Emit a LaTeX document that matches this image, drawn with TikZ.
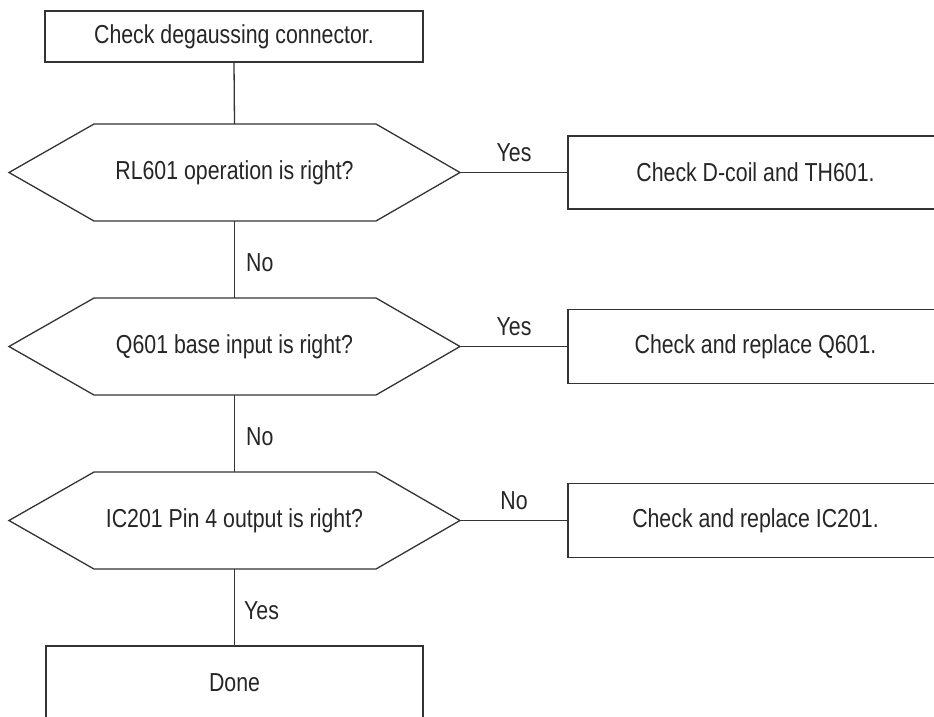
\documentclass[tikz,border=0pt]{standalone}
\usepackage{fontspec}
\setmainfont{Liberation Sans}[FakeStretch=0.82]
\begin{document}
\begin{tikzpicture}[x=1pt,y=-1pt,
  every node/.style={font=\fontsize{26}{30}\selectfont, text=black!85},
  line/.style={draw=black!80, line width=1.3pt},
  box/.style={rectangle, draw=black!80, line width=1.3pt, inner sep=0pt, outer sep=0pt},
  dec/.style={rectangle, inner sep=0pt, outer sep=0pt, minimum width=451pt, minimum height=97pt},
  lbl/.style={inner sep=0pt}
]
\clip (0,0) rectangle (934,716);
\fill[white] (0,0) rectangle (934,716);

\node[box, minimum width=378pt, minimum height=51pt] (start) at (234,36.5) {Check degaussing connector.};

\node[dec] (d1) at (234.5,172.5) {RL601 operation is right?};
\node[dec] (d2) at (234.5,346.5) {Q601 base input is right?};
\node[dec] (d3) at (234.5,520.5) {IC201 Pin 4 output is right?};

\foreach \d in {d1,d2,d3}{
  \draw[line] (\d.west) -- ([xshift=85pt]\d.north west) -- ([xshift=-84pt]\d.north east) -- (\d.east)
    -- ([xshift=-84pt]\d.south east) -- ([xshift=85pt]\d.south west) -- cycle;
}

\node[box, minimum width=375pt, minimum height=73pt] (r1) at (755.5,172.5) {Check D-coil and TH601.};
\node[box, minimum width=375pt, minimum height=74pt] (r2) at (755.5,346.5) {Check and replace Q601.};
\node[box, minimum width=375pt, minimum height=74pt] (r3) at (755.5,520.5) {Check and replace IC201.};

\node[box, minimum width=377pt, minimum height=74pt] (done) at (234.5,683) {Done};

\draw[line] (start.south) -- (d1.north);
\draw[line] (d1.south) -- node[lbl, anchor=west, xshift=11pt, yshift=-3pt] {No} (d2.north);
\draw[line] (d2.south) -- node[lbl, anchor=west, xshift=11pt, yshift=-3pt] {No} (d3.north);
\draw[line] (d3.south) -- node[lbl, anchor=west, xshift=9pt, yshift=-3pt] {Yes} (done.north);

\draw[line] (d1.east) -- node[lbl, anchor=south, yshift=10pt] {Yes} (r1.west);
\draw[line] (d2.east) -- node[lbl, anchor=south, yshift=10pt] {Yes} (r2.west);
\draw[line] (d3.east) -- node[lbl, anchor=south, yshift=10pt] {No} (r3.west);
\end{tikzpicture}
\end{document}
